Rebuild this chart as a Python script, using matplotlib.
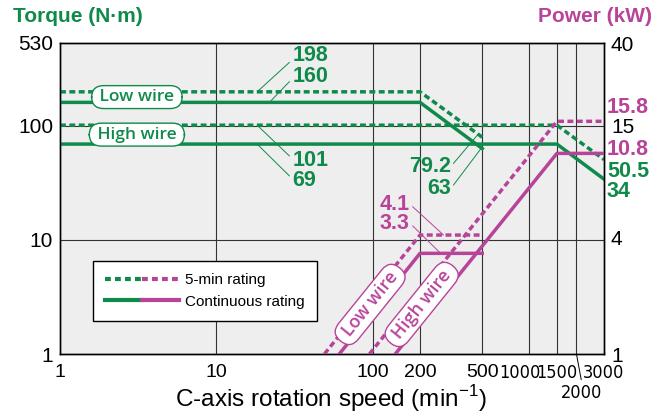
import numpy as np
import matplotlib
matplotlib.use('Agg')
import matplotlib.pyplot as plt
from matplotlib.lines import Line2D
from matplotlib.legend_handler import HandlerTuple
from matplotlib.ticker import NullLocator
from matplotlib import font_manager as fm

# --- data ---
speed_low = [1, 200, 500]
torque_low_5min = [198, 198, 79.2]
torque_low_cont = [160, 160, 63]
speed_high = [1, 1500, 3000]
torque_high_5min = [101, 101, 50.5]
torque_high_cont = [69, 69, 34]

speed_pw_low_5min = [49, 200, 500]
power_low_5min = [1, 4.1, 4.1]
speed_pw_low_cont = [61, 200, 500]
power_low_cont = [1, 3.3, 3.3]
speed_pw_high_5min = [95, 1500, 3000]
power_high_5min = [1, 15.8, 15.8]
speed_pw_high_cont = [139, 1500, 3000]
power_high_cont = [1, 10.8, 10.8]

x_ticks = [1, 10, 100, 200, 500, 1000, 1500, 2000, 3000]
x_ticklabels = ['1', '10', '100', '200', '500', '', '1500', '', '3000']
torque_ticks = [1, 10, 100, 530]
power_ticks = [1, 4, 15, 40]
grid_x = [10, 100, 200, 500, 1000, 1500, 2000]
grid_y = [10, 100]

GREEN = '#0f8a4b'
MAGENTA = '#b8449a'

plt.rcParams['font.family'] = ['Liberation Sans', 'DejaVu Sans']

# look for a narrow / condensed face for the crowded tick labels
cond = None
for f in fm.fontManager.ttflist:
    nm = f.name.lower()
    narrowish = ('narrow' in nm or 'condensed' in nm or str(f.stretch) in ('condensed', 'semi-condensed'))
    if narrowish and f.style == 'normal' and f.weight in (400, 'normal', 'regular'):
        if cond is None or 'liberation' in nm:
            cond = f
if cond is not None:
    narrow_fp = fm.FontProperties(fname=cond.fname, size=13)
else:
    narrow_fp = fm.FontProperties(family='Liberation Sans', size=11)

fig = plt.figure(figsize=(6.67, 4.17), dpi=100)
ax = fig.add_axes([60/667, 1-354/417, 544/667, 311/417])
ax.set_xscale('log')
ax.set_yscale('log')
ax.set_xlim(1, 3000)
ax.set_ylim(1, 530)
ax.set_facecolor('#eeeeee')
ax2 = ax.twinx()
ax2.set_yscale('log')
ax2.set_ylim(1, 40)

for v in grid_x:
    ax.axvline(v, color='#333333', lw=0.8, zorder=1)
for h in grid_y:
    ax.axhline(h, color='#333333', lw=0.8, zorder=1)

# ticks
ax.set_xticks(x_ticks)
ax.set_xticklabels(x_ticklabels)
ax.xaxis.set_minor_locator(NullLocator())
ax.set_yticks(torque_ticks)
ax.set_yticklabels([str(t) for t in torque_ticks])
ax.yaxis.set_minor_locator(NullLocator())
ax2.set_yticks(power_ticks)
ax2.set_yticklabels([str(t) for t in power_ticks])
ax2.yaxis.set_minor_locator(NullLocator())
ax.tick_params(axis='x', length=0, labelsize=14, pad=7)
ax.tick_params(axis='y', length=0, labelsize=15, pad=5)
ax2.tick_params(axis='y', length=0, labelsize=15, pad=5)
for lbl in ax.get_xticklabels():
    if len(lbl.get_text()) == 4:
        lbl.set_fontproperties(narrow_fp)
for a in (ax, ax2):
    for s in a.spines.values():
        s.set_linewidth(1.0)
        s.set_color('black')

# 1000 sits left of its gridline, 2000 is dropped below with a leader
ax.annotate('1000', xy=(1000, 1), xytext=(-7, -7), textcoords='offset points', ha='center',
            va='top', fontproperties=narrow_fp, annotation_clip=False)
ax.annotate('2000', xy=(2000, 1), xytext=(4, -28), textcoords='offset points', ha='center',
            va='center', fontproperties=narrow_fp, annotation_clip=False,
            arrowprops=dict(arrowstyle='-', lw=0.7, color='black', shrinkA=1, shrinkB=0, relpos=(0.5, 1)))

dash = (0, (1.7, 1.0))
lw = 2.5

# torque lines
ax.plot(speed_low, torque_low_5min, color=GREEN, lw=lw, ls=dash, zorder=3)
ax.plot(speed_low, torque_low_cont, color=GREEN, lw=lw, zorder=3)
ax.plot(speed_high, torque_high_5min, color=GREEN, lw=lw, ls=dash, zorder=3)
ax.plot(speed_high, torque_high_cont, color=GREEN, lw=lw, zorder=3)

# power lines
ax2.plot(speed_pw_low_5min, power_low_5min, color=MAGENTA, lw=lw, ls=dash, zorder=3)
ax2.plot(speed_pw_low_cont, power_low_cont, color=MAGENTA, lw=lw, zorder=3)
ax2.plot(speed_pw_high_5min, power_high_5min, color=MAGENTA, lw=lw, ls=dash, zorder=3)
ax2.plot(speed_pw_high_cont, power_high_cont, color=MAGENTA, lw=lw, zorder=3)

# pill labels
pill_g = dict(boxstyle='round,pad=0.2,rounding_size=0.7', fc='white', ec=GREEN, lw=1)
ax.text(3.1, 178, ' Low wire ', ha='center', va='center', color=GREEN, fontsize=12.5,
        family='Open Sans', fontweight='semibold', bbox=pill_g, zorder=5)
ax.text(3.1, 83.5, ' High wire ', ha='center', va='center', color=GREEN, fontsize=12.5,
        family='Open Sans', fontweight='semibold', bbox=pill_g, zorder=5)

p1 = ax2.transData.transform((100, 1))
p2 = ax2.transData.transform((1000, 10))
angle = np.degrees(np.arctan2(p2[1] - p1[1], p2[0] - p1[0]))
pill_m = dict(boxstyle='round,pad=0.2,rounding_size=0.7', fc='white', ec=MAGENTA, lw=1)
ax2.text(96, 1.8, ' Low wire ', ha='center', va='center', color=MAGENTA, fontsize=13,
         family='Open Sans', fontweight='semibold', rotation=angle, rotation_mode='anchor',
         bbox=pill_m, zorder=5)
ax2.text(205, 1.8, ' High wire ', ha='center', va='center', color=MAGENTA, fontsize=13,
         family='Open Sans', fontweight='semibold', rotation=angle, rotation_mode='anchor',
         bbox=pill_m, zorder=5)

# value labels with leaders
val = dict(fontsize=15.5, fontweight='bold')
lead_g = dict(arrowstyle='-', lw=0.7, color=GREEN, shrinkA=0, shrinkB=0)
ax.annotate('198', xy=(18.2, 198), xytext=(30.5, 411), ha='left', va='center', color=GREEN,
            arrowprops=dict(lead_g, relpos=(0, 0.3)), **val)
ax.annotate('160', xy=(21.8, 160), xytext=(30.5, 269), ha='left', va='center', color=GREEN,
            arrowprops=dict(lead_g, relpos=(0, 0.4)), **val)
ax.annotate('101', xy=(18.2, 101), xytext=(30.5, 49.3), ha='left', va='center', color=GREEN,
            arrowprops=dict(lead_g, relpos=(0, 0.6)), **val)
ax.annotate('69', xy=(18.2, 69), xytext=(30.5, 32.9), ha='left', va='center', color=GREEN,
            arrowprops=dict(lead_g, relpos=(0, 0.6)), **val)
ax.annotate('79.2', xy=(470, 84), xytext=(314, 43.7), ha='right', va='center', color=GREEN,
            arrowprops=dict(lead_g, relpos=(1, 0.5)), **val)
ax.annotate('63', xy=(495, 64), xytext=(314, 28), ha='right', va='center', color=GREEN,
            arrowprops=dict(lead_g, relpos=(1, 0.5)), **val)

lead_m = dict(arrowstyle='-', lw=0.7, color=MAGENTA, shrinkA=0, shrinkB=0)
ax2.annotate('4.1', xy=(283, 4.1), xytext=(0.643, 0.482), textcoords='axes fraction',
             ha='right', va='center', color=MAGENTA, arrowprops=dict(lead_m, relpos=(1, 0.5)), **val)
ax2.annotate('3.3', xy=(271, 3.3), xytext=(0.643, 0.421), textcoords='axes fraction',
             ha='right', va='center', color=MAGENTA, arrowprops=dict(lead_m, relpos=(1, 0.5)), **val)

ax2.text(1.0055, 0.794, '15.8', transform=ax2.transAxes, ha='left', va='center', color=MAGENTA, **val)
ax2.text(1.0055, 0.659, '10.8', transform=ax2.transAxes, ha='left', va='center', color=MAGENTA, **val)
ax2.text(1.0055, 0.588, '50.5', transform=ax2.transAxes, ha='left', va='center', color=GREEN, **val)
ax2.text(1.0055, 0.521, '34', transform=ax2.transAxes, ha='left', va='center', color=GREEN, **val)

# legend
dl = (0, (1.4, 1.0))
h5 = (Line2D([], [], color=GREEN, lw=3, ls=dl), Line2D([], [], color=MAGENTA, lw=3, ls=dl))
hc = (Line2D([], [], color=GREEN, lw=3), Line2D([], [], color=MAGENTA, lw=3))
leg = ax.legend([h5, hc], ['5-min rating', 'Continuous rating'],
                handler_map={tuple: HandlerTuple(ndivide=None, pad=0)},
                loc='lower left', bbox_to_anchor=(0.061, 0.106), borderaxespad=0,
                fontsize=11, handlelength=4.8, handletextpad=0.4, labelspacing=0.5,
                borderpad=0.8, fancybox=False, edgecolor='black', framealpha=1)
leg.get_frame().set_linewidth(1)
leg.set_zorder(6)

# titles
fig.text(13/667, 1-17/417, 'Torque (N·m)', ha='left', va='center', color=GREEN,
         fontsize=15, fontweight='bold')
fig.text(652/667, 1-17/417, 'Power (kW)', ha='right', va='center', color=MAGENTA,
         fontsize=15, fontweight='bold')
fig.text(331/667, 1-399/417, 'C-axis rotation speed (min$^{\\mathregular{-1}}$)', ha='center',
         va='center', fontsize=17.5)

fig.savefig('out.png', dpi=100)
